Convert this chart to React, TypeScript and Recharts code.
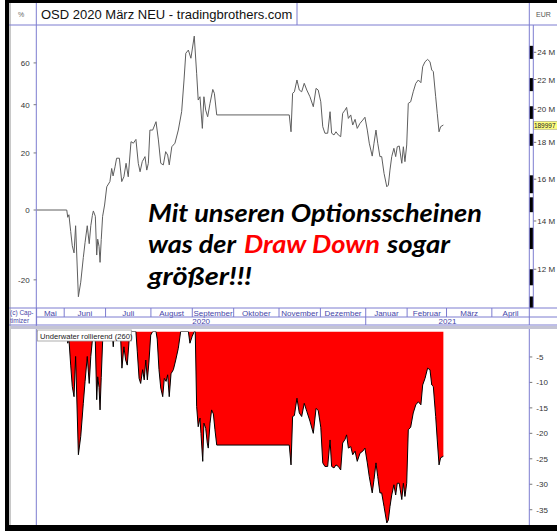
import React from 'react';
import { LineChart, Line, XAxis, YAxis, AreaChart, Area } from 'recharts';

// ---- categories / tick labels ----
const monthNames = ['Mai', 'Juni', 'Juli', 'August', 'September', 'Oktober', 'November', 'Dezember', 'Januar', 'Februar', 'März', 'April'];
const monthStarts = [0, 14, 35, 58, 79, 100, 123, 144, 167, 188, 208, 231, 250]; // trading-day index
const yearNames = ['2020', '2021'];
const yearStarts = [0, 167, 250];
const pctTicks = [-20, 0, 20, 40, 60];
const eurLabelTicks = [12, 14, 16, 18, 20, 22, 24]; // Mio EUR
const uwTicks = [-5, -10, -15, -20, -25, -30, -35];
const START_EUR_M = 14.5; // equity (Mio EUR) at 0 %
const LAST_EUR_M = 18.999727;
const lastEurText = '189997';

// ---- equity curve (% vs. start), trading-day index ----
const equityDays = [0, 15.3, 15.8, 16.4, 17.3, 18.1, 19.0, 19.8, 21.2, 22.4,
  23.7, 24.6, 25.7, 26.7, 27.5, 28.3, 28.8, 29.8, 30.5, 31.0,
  31.7, 32.2, 32.8, 33.5, 34.5, 35.6, 37.2, 38.1, 38.8, 39.8,
  40.6, 42.0, 43.2, 44.3, 45.4, 46.5, 47.9, 49.1, 50.4, 51.6,
  52.5, 53.6, 55.0, 55.9, 56.7, 57.5, 58.9, 60.6, 61.8, 63.0,
  64.3, 65.5, 66.5, 67.3, 68.6, 70.2, 71.9, 73.6, 74.8, 75.7,
  77.0, 78.3, 80.0, 81.2, 82.0, 82.9, 84.1, 84.9, 85.8, 86.8,
  88.0, 89.4, 90.2, 91.4, 128.2, 129.1, 129.9, 130.8, 132.1, 133.3,
  134.5, 135.8, 137.1, 138.7, 140.4, 141.8, 142.9, 144.2, 145.2, 146.3,
  147.7, 148.9, 149.7, 150.9, 151.9, 153.1, 154.3, 155.3, 156.5, 157.3,
  158.2, 159.4, 160.4, 161.6, 162.7, 164.1, 165.5, 166.6, 167.8, 168.8,
  170.3, 171.2, 172.2, 173.1, 174.2, 175.1, 176.3, 177.7, 178.5, 179.3,
  180.2, 181.3, 182.2, 183.0, 184.0, 185.3, 186.1, 186.9, 187.8, 188.6,
  189.8, 191.1, 192.4, 193.7, 195.0, 195.9, 197.1, 198.4, 199.6, 200.5,
  201.3, 202.5, 203.3, 204.2, 205.0, 206.4];
const equityPct = [0, 0, -2.3, -1.5, -6.6, -10.8, -12.8, -4.9, -24.2, -20.6,
  -14.1, -9.8, -4.9, -10.2, -4.9, -1.7, -0.3, -2, -13.4, -8.9,
  -11, -15.4, -9, -2, 1.6, 7.7, 9.5, 14.2, 11.5, 14.8,
  18.0, 18.0, 9.5, 11.2, 16.1, 11.2, 24.4, 23.8, 25.3, 16.1,
  13.0, 16.7, 18.6, 13.6, 16.1, 29.1, 29.1, 32.6, 25.1, 16.1,
  15.5, 20.5, 19.2, 15.5, 22.4, 23.8, 29.1, 36.9, 51.5, 65.0,
  66.7, 62.4, 74.3, 54.8, 42.1, 43.6, 29.8, 43.6, 37.6, 34.7,
  40.6, 47.0, 45.2, 35.5, 35.5, 28.4, 45.2, 45.9, 51.5, 46.7,
  45.9, 49.9, 46.7, 43.6, 39.1, 47.5, 46.7, 41.3, 30.5, 27.8,
  27.8, 36.9, 27.8, 27.1, 28.4, 27.1, 26.4, 36.2, 37.6, 38.8,
  34.0, 35.5, 31.2, 33.6, 29.8, 31.9, 33.3, 34.5, 29.1, 23.8,
  18.8, 23.8, 29.1, 23.8, 18.6, 18.6, 12.4, 7.7, 8.3, 13.6,
  18.6, 21.8, 18.6, 22.4, 22.7, 16.1, 22.4, 16.7, 23.1, 40.6,
  41.3, 45.9, 49.9, 51.5, 50.2, 58.1, 60.6, 61.8, 60.6, 56.4,
  55.6, 43.6, 36.2, 28.4, 30.5, 31.2];

// ---- underwater (rolling drawdown %) ----
const uwDays = [0, 15.3, 15.8, 16.4, 17.3, 18.1, 19.0, 19.8, 21.2, 22.4,
  23.7, 24.6, 25.7, 26.7, 27.5, 28.3, 28.8, 29.3, 29.8, 30.5,
  31.0, 31.7, 32.2, 32.8, 33.5, 34.2, 38.3, 38.9, 39.4, 42.5,
  43.3, 44.3, 45.2, 46.0, 46.9, 47.7, 50.4, 51.1, 52.0, 52.8,
  53.8, 54.6, 55.4, 56.2, 57.0, 57.9, 58.9, 60.6, 61.2, 62.1,
  63.0, 64.0, 64.8, 65.7, 66.5, 67.3, 68.2, 69.4, 70.6, 71.9,
  73.1, 77.0, 77.8, 78.9, 80.0, 80.5, 81.2, 82.0, 82.9, 83.4,
  84.3, 84.9, 85.8, 86.6, 87.1, 88.0, 88.8, 89.7, 90.5, 91.4,
  128.2, 129.1, 129.9, 130.8, 132.1, 133.3, 134.5, 135.8, 137.1, 138.7,
  140.4, 141.8, 142.9, 144.2, 145.2, 146.3, 147.7, 148.9, 149.7, 150.9,
  151.9, 153.1, 154.3, 155.3, 156.5, 157.3, 158.2, 159.4, 160.4, 161.6,
  162.7, 164.1, 165.5, 166.6, 167.8, 168.8, 170.3, 171.2, 172.2, 173.1,
  174.2, 175.1, 176.3, 177.7, 178.5, 179.3, 180.2, 181.3, 182.2, 183.0,
  184.0, 185.3, 186.1, 186.9, 187.8, 188.6, 189.8, 191.1, 192.4, 193.7,
  195.0, 195.9, 197.1, 198.4, 199.6, 200.5, 201.3, 202.5, 203.3, 204.2,
  205.0, 206.4];
const uwPct = [0, 0, -2.3, -1.5, -6.6, -10.8, -12.8, -4.9, -24.2, -20.6,
  -14.1, -9.8, -4.9, -10.2, -4.9, -1.7, 0, 0, -2, -13.4,
  -8.9, -11, -15.4, -9, -2, 0, 0, -3, 0, 0,
  -7.2, -3, -5.6, -6.6, -2, 0, 0, -4, -9.2, -10.2,
  -7.5, -9.5, -5.6, -9.5, -6, -0.7, 0, 0, -1.5, -7.5,
  -11.1, -12.8, -9.2, -9.8, -8.5, -12.8, -8.3, -7.5, -5.6, -3.3,
  0, 0, -2.3, -1, 0, 0, -14.7, -18.7, -17, -20,
  -25.5, -18, -19, -21.9, -22.9, -18, -15.4, -16.2, -19.3, -22.3,
  -22.3, -26.2, -16.7, -16.5, -13.1, -16, -16.7, -14.1, -15.7, -17.6,
  -20, -15.1, -15.5, -18.8, -25.8, -26.5, -26.5, -21.3, -26.5, -26.8,
  -26.2, -26.5, -27.2, -21.9, -21.2, -20.3, -22.9, -22.6, -24.2, -23.5,
  -25.5, -23.9, -23.5, -22.9, -25.8, -28.5, -31.7, -29.1, -25.8, -28.5,
  -31.7, -31.7, -34.4, -37.6, -37, -34.4, -32.1, -30.1, -32.1, -29.8,
  -29.8, -33, -29.8, -32.4, -29.8, -19.3, -18.8, -16, -14.4, -13.8,
  -14.4, -10.5, -9.2, -7.2, -7.5, -10.5, -10.8, -16.7, -21.3, -26.2,
  -24.8, -24.5];

// decorative black scale bars on the EUR axis (Mio EUR ranges)
const eurBars = [[23.5, 24.5], [21.2, 22.1], [19.4, 20.2], [17.8, 18.5], [15.3, 16.2], [14.4, 15.1], [12.8, 13.7], [11.4, 12.0], [10.6, 11.0]];

// ---- derived tables ----
const topData = equityDays.map((d, i) => ({ d, ratio: 1 + equityPct[i] / 100, eurM: START_EUR_M * (1 + equityPct[i] / 100) }));
const uwData = uwDays.map((d, i) => ({ d, dd: uwPct[i] }));
const monthMids = monthNames.map((_, i) => (monthStarts[i] + monthStarts[i + 1]) / 2);
const yearMids = yearNames.map((_, i) => (yearStarts[i] + yearStarts[i + 1]) / 2);
const xTicks = [...monthStarts, ...monthMids, ...yearMids];
const barCenters = eurBars.map(([lo, hi]) => Math.sqrt(lo * hi));
const rightTicks = [...eurLabelTicks, ...barCenters, LAST_EUR_M];

const LEFT_DOMAIN: [number, number] = [0.7312, 1.806];
const EUR_DOMAIN: [number, number] = [LEFT_DOMAIN[0] * START_EUR_M, LEFT_DOMAIN[1] * START_EUR_M];
const TOP_PLOT_H = 283;
const PX_PER_LN = TOP_PLOT_H / Math.log(LEFT_DOMAIN[1] / LEFT_DOMAIN[0]);

const GRID = '#7c7cd0';
const TXT = '#4646a8';
const FONT = '"Liberation Sans", Arial, sans-serif';
const BIG_FONT = 'Lato, "Open Sans", sans-serif';

const MonthTick = (p: any) => {
  const { x, y, payload } = p;
  const v = payload.value;
  if (monthStarts.indexOf(v) >= 0) {
    const isYear = yearStarts.indexOf(v) >= 0;
    return <line x1={x} x2={x} y1={y} y2={y + (isYear ? 17 : 9)} stroke={GRID} strokeWidth={1} />;
  }
  const mi = monthMids.indexOf(v);
  if (mi >= 0) {
    return <text x={x} y={y + 7.5} textAnchor="middle" fontSize={8} fill={TXT} fontFamily={FONT}>{monthNames[mi]}</text>;
  }
  const yi = yearMids.indexOf(v);
  if (yi >= 0) {
    return <text x={x} y={y + 16} textAnchor="middle" fontSize={8} fill={TXT} fontFamily={FONT}>{yearNames[yi]}</text>;
  }
  return <g />;
};

const EurTick = (p: any) => {
  const { x, y, payload } = p;
  const v = payload.value;
  if (v === LAST_EUR_M) {
    return (
      <g>
        <rect x={x + 4} y={y - 3.8} width={24} height={7.6} fill="#ffff80" stroke="#a0a060" strokeWidth={0.6} />
        <text x={x + 4.6} y={y + 2.6} fontSize={6.5} fill="#222" fontFamily={FONT}>{lastEurText}</text>
      </g>
    );
  }
  const bi = barCenters.indexOf(v);
  if (bi >= 0) {
    const [lo, hi] = eurBars[bi];
    const h = PX_PER_LN * Math.log(hi / lo);
    return <rect x={x} y={y - h / 2} width={4} height={h} fill="#000" />;
  }
  return (
    <g>
      <line x1={x + 4} x2={x + 7} y1={y} y2={y} stroke="#777" strokeWidth={1} />
      <text x={x + 8} y={y + 3} fontSize={8} fill="#333" fontFamily={FONT}>{`${v} M`}</text>
    </g>
  );
};

export default function App() {
  return (
    <div style={{ position: 'absolute', left: 0, top: 0, width: 557, height: 531, background: '#fff', overflow: 'hidden', fontFamily: FONT }}>
      <div style={{ position: 'absolute', left: 0, top: 0 }}>
        <LineChart width={557} height={325} data={topData} margin={{ top: 25, right: 0, bottom: 0, left: 9 }}>
          <XAxis dataKey="d" type="number" domain={[0, 250]} ticks={xTicks} interval={0} height={17}
            tickSize={0} tickMargin={0} axisLine={false} tickLine={false} allowDataOverflow
            tick={(p: any) => <MonthTick {...p} />} />
          <YAxis yAxisId="l" scale="log" domain={LEFT_DOMAIN} ticks={pctTicks.map((t) => 1 + t / 100)} interval={0}
            width={27.6} allowDataOverflow axisLine={false} tickSize={3} tickMargin={4}
            tickLine={{ stroke: '#777' }} tick={{ fontSize: 8, fill: '#333', fontFamily: FONT }}
            tickFormatter={(v: number) => String(Math.round((v - 1) * 100))} />
          <YAxis yAxisId="r" orientation="right" scale="log" domain={EUR_DOMAIN} ticks={rightTicks} interval={0}
            width={27.7} allowDataOverflow axisLine={false} tickLine={false} tickSize={0} tickMargin={0}
            tick={(p: any) => <EurTick {...p} />} />
          <Line yAxisId="r" dataKey="eurM" stroke="none" dot={false} activeDot={false} isAnimationActive={false} />
          <Line yAxisId="l" dataKey="ratio" type="linear" stroke="#5e5e5e" strokeWidth={1} dot={false} activeDot={false} isAnimationActive={false} />
        </LineChart>
      </div>
      <div style={{ position: 'absolute', left: 0, top: 325 }}>
        <AreaChart width={557} height={206} data={uwData} margin={{ top: 6.5, right: 0, bottom: 6, left: 36.6 }}>
          <XAxis dataKey="d" type="number" domain={[0, 250]} hide allowDataOverflow />
          <YAxis orientation="right" domain={[-38, 0]} ticks={uwTicks} interval={0} width={27.7} allowDataOverflow
            axisLine={false} tickSize={3} tickMargin={4} tickLine={{ stroke: '#777' }}
            tick={{ fontSize: 8, fill: '#333', fontFamily: FONT }} />
          <Area dataKey="dd" type="linear" baseValue={0} fill="#ff0000" fillOpacity={1} stroke="#000" strokeWidth={1}
            dot={false} activeDot={false} isAnimationActive={false} />
        </AreaChart>
      </div>
      <svg width={557} height={531} style={{ position: 'absolute', left: 0, top: 0, pointerEvents: 'none' }}>
        {/* outer frame */}
        <rect x={5} y={0} width={4} height={531} fill="#000" />
        <rect x={9} y={3} width={2} height={522} fill="#c8c8c8" />
        <rect x={5} y={0} width={552} height={3} fill="#000" />
        <rect x={5} y={525} width={552} height={6} fill="#000" />
        {/* header */}
        <line x1={9} x2={557} y1={25} y2={25} stroke={GRID} />
        <line x1={297} x2={297} y1={3} y2={25} stroke={GRID} />
        <line x1={529.3} x2={529.3} y1={3} y2={25} stroke={GRID} />
        <text x={21} y={17} fontSize={7} fill="#666" fontFamily={FONT} textAnchor="middle">%</text>
        <text x={41} y={19} fontSize={13} fill="#111" fontFamily={FONT}>OSD 2020 März NEU - tradingbrothers.com</text>
        <text x={536} y={17} fontSize={7} fill="#555" fontFamily={FONT}>EUR</text>
        {/* vertical axis lines */}
        <line x1={36.3} x2={36.3} y1={3} y2={525} stroke={GRID} />
        <line x1={529.3} x2={529.3} y1={25} y2={308} stroke={GRID} />
        <line x1={533.3} x2={533.3} y1={25} y2={308} stroke={GRID} />
        <line x1={529.3} x2={529.3} y1={329} y2={525} stroke={GRID} />
        {/* month / year rows */}
        <line x1={9} x2={557} y1={308} y2={308} stroke={GRID} />
        <line x1={36} x2={557} y1={317} y2={317} stroke={GRID} />
        <line x1={9} x2={557} y1={325} y2={325} stroke={GRID} />
        <rect x={11} y={326} width={546} height={3} fill="#c4c4d4" />
        <text x={10} y={315} fontSize={6.5} fill={TXT} fontFamily={FONT}>(c) Cap-</text>
        <text x={10} y={323} fontSize={6.5} fill={TXT} fontFamily={FONT}>timizer</text>
        {/* underwater legend */}
        <rect x={37.3} y={330} width={94} height={11} fill="#fff" stroke="#9a9a9a" strokeWidth={0.8} />
        <text x={40} y={338.5} fontSize={7.6} fill="#222" fontFamily={FONT}>Underwater rollierend (260)</text>
        {/* annotation */}
        <g fontFamily={BIG_FONT} fontWeight={700} fontStyle="italic" fontSize={24}>
          <text x={148} y={221.7} textLength={334} lengthAdjust="spacingAndGlyphs" fill="#000">Mit unseren Optionsscheinen</text>
          <text x={148} y={253.3} textLength={88} lengthAdjust="spacingAndGlyphs" fill="#000">was der</text>
          <text x={244} y={253.3} textLength={136} lengthAdjust="spacingAndGlyphs" fill="#ff0000">Draw Down</text>
          <text x={387} y={253.3} textLength={63} lengthAdjust="spacingAndGlyphs" fill="#000">sogar</text>
          <text x={148} y={285} textLength={104} lengthAdjust="spacingAndGlyphs" fill="#000">größer!!!</text>
        </g>
      </svg>
    </div>
  );
}
